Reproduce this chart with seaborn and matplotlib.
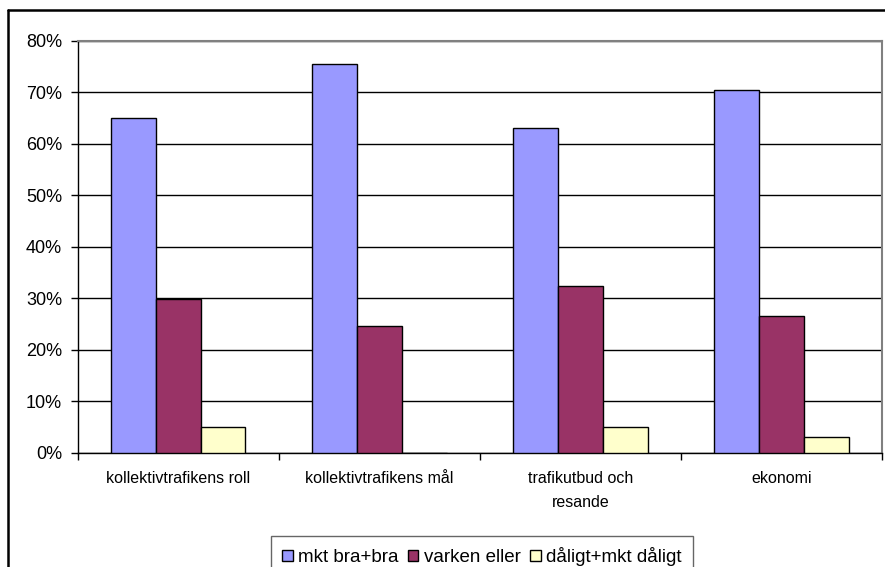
import seaborn as sns
import matplotlib.pyplot as plt
import pandas as pd
from matplotlib.lines import Line2D
from matplotlib.ticker import PercentFormatter, FixedLocator

omraden = ['kollektivtrafikens roll', 'kollektivtrafikens mål',
           'trafikutbud och\nresande', 'ekonomi']
serier = ['mkt bra+bra', 'varken eller', 'dåligt+mkt dåligt']
mkt_bra = [0.650, 0.755, 0.631, 0.705]
varken = [0.298, 0.246, 0.324, 0.265]
daligt = [0.050, 0.0, 0.049, 0.030]
farger = ['#9999FF', '#993366', '#FFFFCC']

df = pd.DataFrame({
    'omrade': omraden * 3,
    'serie': [s for s in serier for _ in omraden],
    'andel': mkt_bra + varken + daligt,
})

sns.set_style('white')
plt.rcParams['font.family'] = ['Liberation Sans', 'DejaVu Sans']
plt.rcParams['text.color'] = 'black'
plt.rcParams['xtick.color'] = 'black'
plt.rcParams['ytick.color'] = 'black'
plt.rcParams['xtick.labelcolor'] = 'black'
plt.rcParams['ytick.labelcolor'] = 'black'

fig = plt.figure(figsize=(8.85, 5.67), dpi=100)
ax = fig.add_axes([77.5 / 885, 1 - 452.7 / 567, (882 - 77.5) / 885, (452.7 - 40.7) / 567])

sns.barplot(data=df, x='omrade', y='andel', hue='serie', order=omraden,
            hue_order=serier, palette=farger, width=0.67, gap=0,
            edgecolor='black', linewidth=1, saturation=1, ax=ax, legend=False,
            zorder=3)

ax.set_xlim(-0.5, len(omraden) - 0.5)
ax.set_ylim(0, 0.8)
ax.yaxis.set_major_locator(FixedLocator([i / 10 for i in range(9)]))
ax.yaxis.set_major_formatter(PercentFormatter(1.0, decimals=0))
ax.grid(axis='y', color='black', linewidth=1, zorder=0)
ax.set_axisbelow(True)
ax.set_xlabel('')
ax.set_ylabel('')

ax.tick_params(axis='y', which='major', direction='out', length=5, width=1,
               color='black', labelcolor='black', labelsize=13, pad=6, left=True)
ax.tick_params(axis='x', which='major', length=0, pad=13, labelcolor='black')
ax.set_xticks([i - 0.5 for i in range(len(omraden) + 1)], minor=True)
ax.tick_params(axis='x', which='minor', direction='out', length=5, width=1,
               color='black', bottom=True)
for lbl in ax.get_xticklabels():
    lbl.set_fontsize(11.5)
    lbl.set_linespacing(1.75)
    lbl.set_verticalalignment('top')

for side in ['left', 'bottom']:
    ax.spines[side].set_color('black')
    ax.spines[side].set_linewidth(1)
for side in ['top', 'right']:
    ax.spines[side].set_visible(True)
    ax.spines[side].set_color('#808080')
    ax.spines[side].set_linewidth(1.5)

# yttre ram
x0 = 8 / 885
y0 = 1 - 10 / 567
fig.add_artist(Line2D([x0, x0], [-0.01, y0], transform=fig.transFigure, color='black', linewidth=1.8))
fig.add_artist(Line2D([x0, 1.01], [y0, y0], transform=fig.transFigure, color='black', linewidth=1.8))

handles = [plt.Rectangle((0, 0), 1, 1, facecolor=c, edgecolor='black', linewidth=1) for c in farger]
leg = fig.legend(handles, serier, loc='upper left', bbox_to_anchor=(271 / 885, 1 - 535.7 / 567),
                 ncol=3, fontsize=13.5, frameon=True, fancybox=False, handlelength=0.55,
                 handleheight=0.55, handletextpad=0.3, columnspacing=0.5, borderpad=0.6,
                 borderaxespad=0, labelcolor='black')
leg.get_frame().set_edgecolor('#404040')
leg.get_frame().set_linewidth(1)

fig.savefig('out.png', dpi=100)
